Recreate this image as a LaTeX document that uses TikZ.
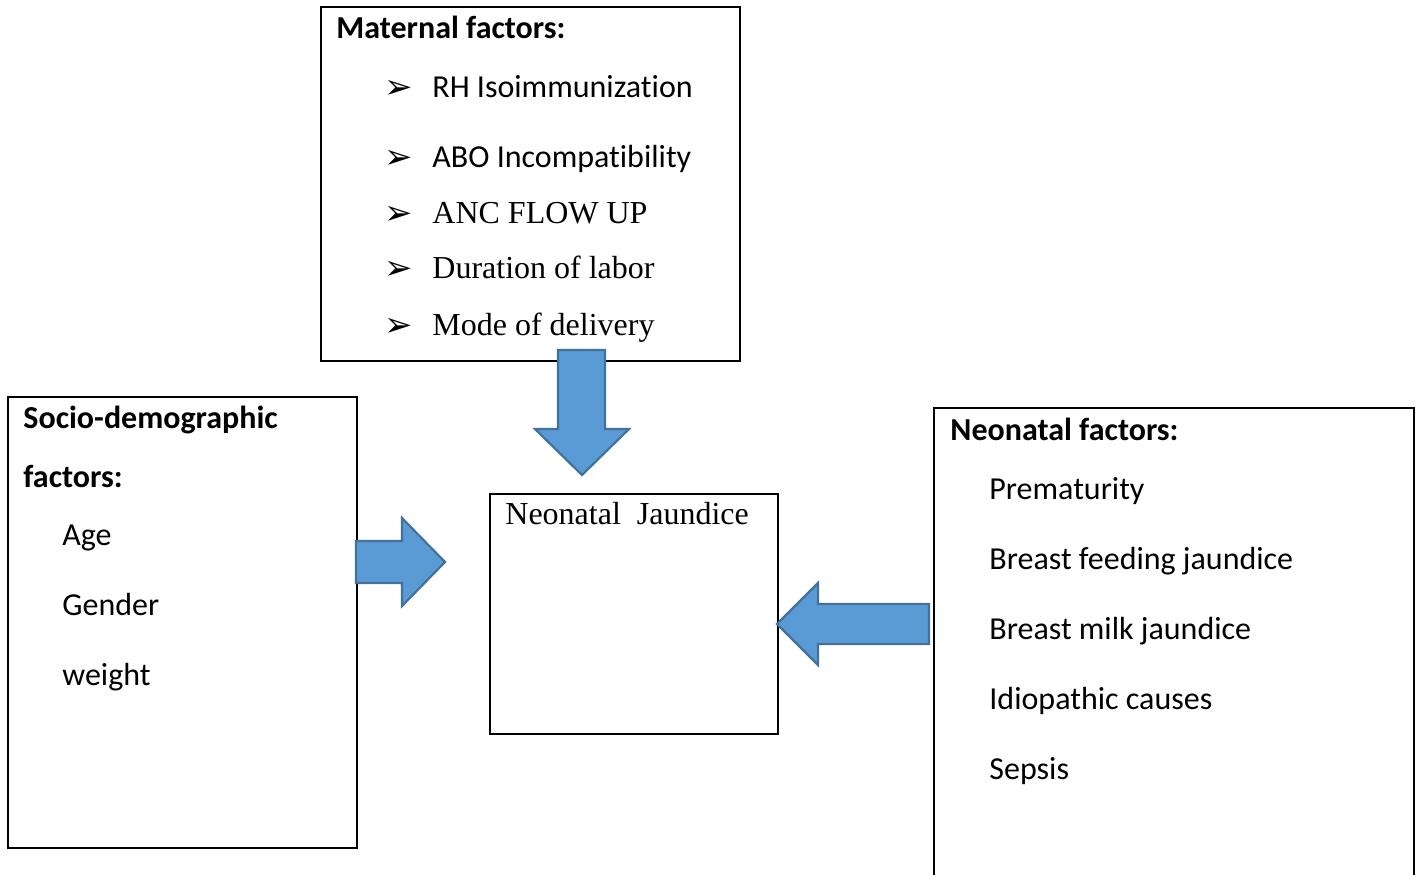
\documentclass[tikz,border=0pt]{standalone}
\usepackage{fontspec}
\setmainfont{Liberation Serif}
\newfontfamily\calib[Ligatures=NoCommon]{Carlito}
\newfontfamily\dejavu{DejaVu Sans}
\definecolor{arrowfill}{HTML}{5B9BD5}
\definecolor{arrowline}{HTML}{41719C}
\begin{document}
\begin{tikzpicture}[x=0.5pt,y=-0.5pt,
  box/.style={draw=black, line width=0.75pt, inner sep=0pt, outer sep=0pt, anchor=north west},
  sans/.style={font=\calib\fontsize{16}{19}\selectfont, anchor=base west, inner sep=0pt},
  sansb/.style={font=\calib\bfseries\fontsize{16}{19}\selectfont, anchor=base west, inner sep=0pt},
  serif/.style={font=\fontsize{16}{19}\selectfont, anchor=base west, inner sep=0pt},
  bul/.style={font=\dejavu\fontsize{17}{19}\selectfont, anchor=base west, inner sep=0pt},
  blk/.style={fill=arrowfill, draw=arrowline, line width=1.1pt, line join=miter}]
\useasboundingbox (0,0) rectangle (1416,874);
\begin{scope}
\clip (0,0) rectangle (1416,874);
% boxes
\node[box, minimum width=209.5pt, minimum height=177pt] (mat) at (321,7) {};
\node[box, minimum width=174.5pt, minimum height=225.5pt] (soc) at (8,397) {};
\node[box, minimum width=144pt, minimum height=120pt] (nj) at (490,494) {};
\node[box, minimum width=240pt, minimum height=250pt] (neo) at (934,408) {};
\end{scope}
% block arrows
\draw[blk] (558,350) -- (605,350) -- (605,429) -- (629,429) -- (582,475) -- (535,429) -- (558,429) -- cycle;
\draw[blk] (356,541) -- (402,541) -- (402,518) -- (445,562) -- (402,606) -- (402,583) -- (356,583) -- cycle;
\draw[blk] (929,604) -- (818,604) -- (818,583) -- (777,624) -- (818,665) -- (818,644) -- (929,644) -- cycle;
% maternal texts
\node[sansb] (mt) at (336,38) {Maternal factors:};
\node[bul] (b1) at (384,98) {➢};
\node[sans] (m1) at (432,97) {RH Isoimmunization};
\node[bul] (b2) at (384,168) {➢};
\node[sans] (m2) at (432,167) {ABO Incompatibility};
\node[bul] (b3) at (384,224) {➢};
\node[serif] (m3) at (432,223) {ANC FLOW UP};
\node[bul] (b4) at (384,279) {➢};
\node[serif] (m4) at (432,278) {Duration of labor};
\node[bul] (b5) at (384,336) {➢};
\node[serif] (m5) at (432,335) {Mode of delivery};
% center
\node[serif] (njt) at (505,524) {Neonatal\ \ Jaundice};
% socio texts
\node[sansb] (st1) at (23,428) {Socio-demographic};
\node[sansb] (st2) at (23,487) {factors:};
\node[sans] (s1) at (62,545) {Age};
\node[sans] (s2) at (62,615) {Gender};
\node[sans] (s3) at (62,685) {weight};
% neonatal texts
\node[sansb] (nt) at (950,440) {Neonatal factors:};
\node[sans] (n1) at (989,499) {Prematurity};
\node[sans] (n2) at (989,569) {Breast feeding jaundice};
\node[sans] (n3) at (989,639) {Breast milk jaundice};
\node[sans] (n4) at (989,709) {Idiopathic causes};
\node[sans] (n5) at (989,779) {Sepsis};
\end{tikzpicture}
\end{document}
